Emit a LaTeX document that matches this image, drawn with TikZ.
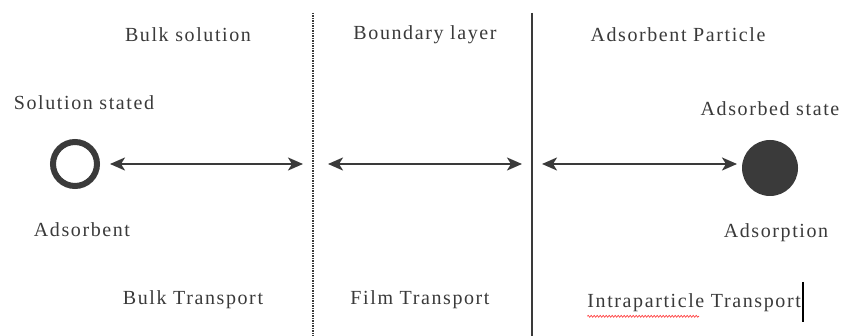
\documentclass[tikz,border=0pt]{standalone}
\usepackage{fontspec}
\setmainfont{Liberation Serif}[LetterSpace=8]
\usetikzlibrary{arrows.meta,decorations.pathmorphing}
\definecolor{ink}{HTML}{3A3A3A}
\tikzset{
  lbl/.style={text=ink, font=\fontsize{20}{23}\selectfont, inner sep=0pt},
  conn/.style={draw=ink, line width=2.2pt, {Stealth[length=15pt,width=13pt,inset=4pt]}-{Stealth[length=15pt,width=13pt,inset=4pt]}},
}
\begin{document}
\begin{tikzpicture}[x=1pt,y=-1pt]
\useasboundingbox[fill=white] (0,0) rectangle (845,336);
% divider lines
\draw[ink, line width=2pt, dash pattern=on 1.2pt off 1.3pt] (313,13) -- (313,336);
\draw[ink, line width=2pt] (532,13) -- (532,336);
% headings
\node[lbl] (bulk) at (188,35) {Bulk solution};
\node[lbl] (bound) at (425,35) {Boundary layer};
\node[lbl] (part) at (678,35) {Adsorbent Particle};
\node[lbl] (solst) at (84,103) {Solution stated};
\node[lbl] (adsst) at (770,109) {Adsorbed state};
% circles
\node[circle, draw=ink, line width=6pt, minimum size=44pt, inner sep=0pt] (open) at (75,164) {};
\node[circle, fill=ink, minimum size=56pt, inner sep=0pt] (full) at (770,168) {};
% arrow ends
\coordinate (a1l) at (110,164);
\coordinate (a1r) at (303,164);
\coordinate (a2l) at (328,164);
\coordinate (a2r) at (522,164);
\coordinate (a3l) at (542,164);
\coordinate (a3r) at (737,164);
\draw[conn] (a1l) -- (a1r);
\draw[conn] (a2l) -- (a2r);
\draw[conn] (a3l) -- (a3r);
% lower labels
\node[lbl] (adsb) at (82,230) {Adsorbent};
\node[lbl] (adsp) at (776,233) {Adsorption};
\node[lbl] (bt) at (193,300) {Bulk Transport};
\node[lbl] (ft) at (420,300) {Film Transport};
\node[lbl, anchor=east] (it) at (801,303) {Intraparticle Transport};
% spell-check underline and cursor
\draw[red!80, line width=0.6pt, decorate, decoration={snake, amplitude=1pt, segment length=3pt}] (it.south west) ++(0,4) -- ++(112,0);
\draw[black, line width=1.5pt] (803,282) -- (803,322);
\end{tikzpicture}
\end{document}
